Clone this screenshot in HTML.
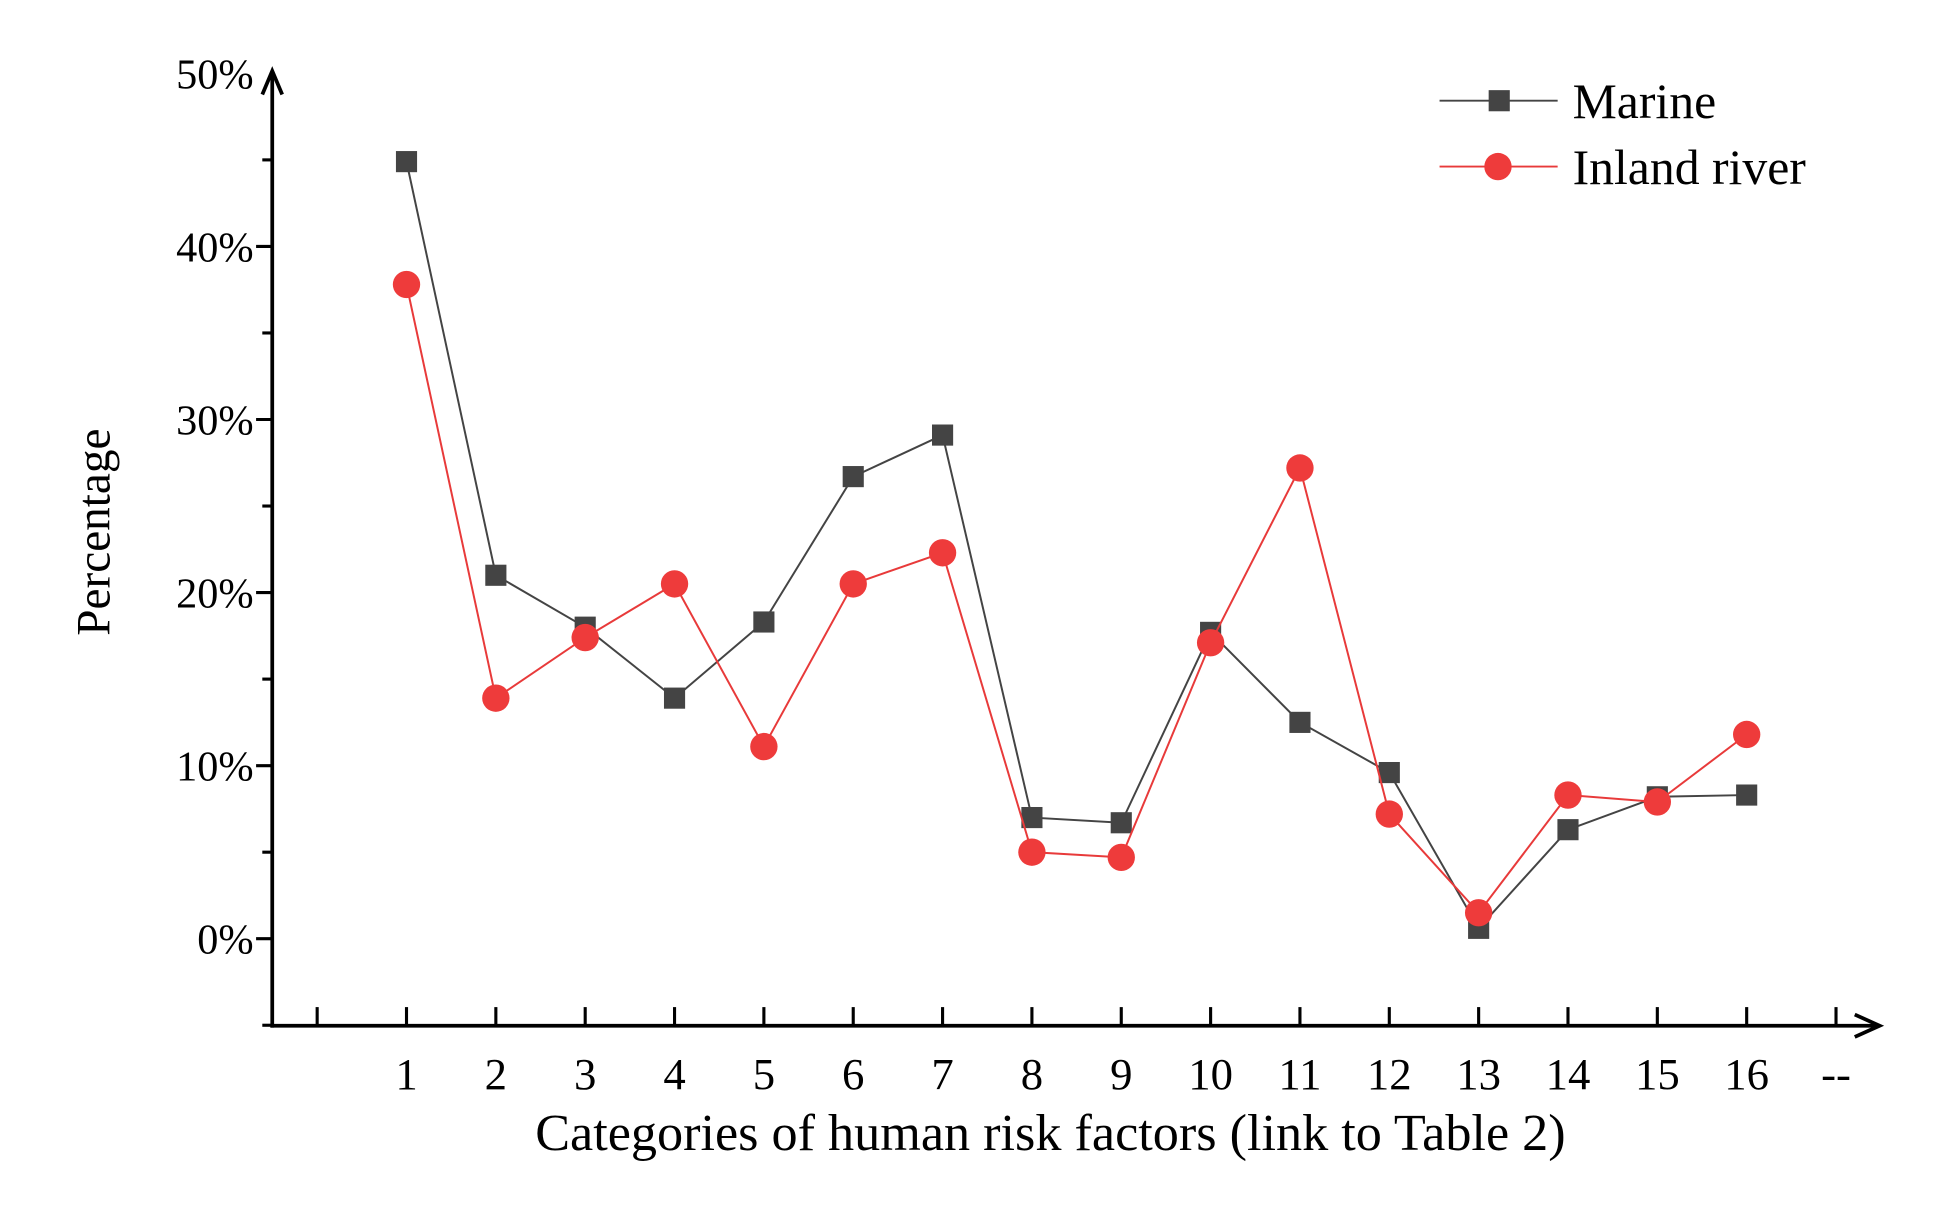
<!DOCTYPE html>
<html><head><meta charset="utf-8"><style>
html,body{margin:0;padding:0;background:#fff;}
svg{display:block;}
text{font-family:"Liberation Serif",serif;fill:#000;}
</style></head><body>
<svg id="chart" width="1948" height="1211" viewBox="0 0 1567 974" preserveAspectRatio="none" xmlns="http://www.w3.org/2000/svg">
<g id="axes"></g>
<g id="series"></g>
<text x="0" y="0" transform="translate(88,428) rotate(-90)" text-anchor="middle" font-size="38">Percentage</text>
<text x="845" y="925" text-anchor="middle" font-size="42">Categories of human risk factors (link to Table 2)</text>
<g>
  <g>
    <line x1="1158" y1="81" x2="1253" y2="81" stroke="#444" stroke-width="1.5"/>
    <rect x="1197.5" y="72.5" width="17" height="17" fill="#444"/>
    <text x="1265" y="95" font-size="40">Marine</text>
  </g>
  <g>
    <line x1="1158" y1="134" x2="1253" y2="134" stroke="#e83a3a" stroke-width="1.5"/>
    <circle cx="1205" cy="134" r="11" fill="#ee3b3b"/>
    <text x="1265" y="148" font-size="40">Inland river</text>
  </g>
</g>
</svg>
<script>
const categories = [1,2,3,4,5,6,7,8,9,10,11,12,13,14,15,16];
const marineValues = [44.9,21.0,18.0,13.9,18.3,26.7,29.1,7.0,6.7,17.7,12.5,9.6,0.6,6.3,8.2,8.3];
const inlandValues = [37.8,13.9,17.4,20.5,11.1,20.5,22.3,5.0,4.7,17.1,27.2,7.2,1.5,8.3,7.9,11.8];
const yTickValues = [0,10,20,30,40,50];
const yTickLabels = ["0%","10%","20%","30%","40%","50%"];

const NS = "http://www.w3.org/2000/svg";
const xAxisY = 825, yAxisX = 219;
function xPos(c){ return 327 + (c-1)*71.87; }
function yPos(v){ return 755 - v*13.92; }
function mk(tag, attrs, parent){
  const e = document.createElementNS(NS, tag);
  for (const k in attrs) e.setAttribute(k, attrs[k]);
  parent.appendChild(e);
  return e;
}
const axes = document.getElementById('axes');
const series = document.getElementById('series');

let yl = mk('line',{x1:yAxisX,y1:xAxisY+1.5,x2:yAxisX,y2:58,stroke:'#000','stroke-width':3},axes);


let ya = mk('polyline',{points:`${yAxisX-8},76 ${yAxisX},57 ${yAxisX+8},76`,fill:'none',stroke:'#000','stroke-width':3},axes);


let xl = mk('line',{x1:yAxisX-1.5,y1:xAxisY,x2:1512,y2:xAxisY,stroke:'#000','stroke-width':3},axes);


let xa = mk('polyline',{points:`1492,816 1512,825 1492,834`,fill:'none',stroke:'#000','stroke-width':3},axes);



for (let v=-5; v<=45; v+=5){
  const major = v%10===0;
  const t = mk('line',{x1:yAxisX-(major?13:8),y1:yPos(v),x2:yAxisX,y2:yPos(v),stroke:'#000','stroke-width':2.5},axes);
  
  
}
yTickValues.forEach((v,i)=>{
  const t = mk('text',{x:yAxisX-15,y:yPos(v)+12,'text-anchor':'end','font-size':34},axes);
  t.textContent = yTickLabels[i];
  
  
});
for (let c=0; c<=17; c++){
  const t = mk('line',{x1:xPos(c),y1:xAxisY-15,x2:xPos(c),y2:xAxisY,stroke:'#000','stroke-width':2.5},axes);
  
  
}
categories.forEach(c=>{
  const t = mk('text',{x:xPos(c),y:876,'text-anchor':'middle','font-size':36},axes);
  t.textContent = String(c);
  
  
});
const dash = mk('text',{x:xPos(17),y:876,'text-anchor':'middle','font-size':36},axes);
dash.textContent = "--";



function drawSeries(vals, color, lineColor, shape, name){
  const g = mk('g',{},series);
  
  
  const pl = mk('polyline',{points:vals.map((v,i)=>xPos(categories[i])+','+yPos(v)).join(' '),fill:'none',stroke:lineColor,'stroke-width':1.6},g);
  
  
  vals.forEach((v,i)=>{
    const x = xPos(categories[i]), y = yPos(v);
    let m;
    if (shape==='square') m = mk('rect',{x:x-8.5,y:y-8.5,width:17,height:17,fill:color},g);
    else m = mk('circle',{cx:x,cy:y,r:11,fill:color},g);
    
    
  });
}
drawSeries(marineValues,'#444','#444','square','marine-series');
drawSeries(inlandValues,'#ee3b3b','#e83a3a','circle','inland-river-series');
</script>
</body></html>
